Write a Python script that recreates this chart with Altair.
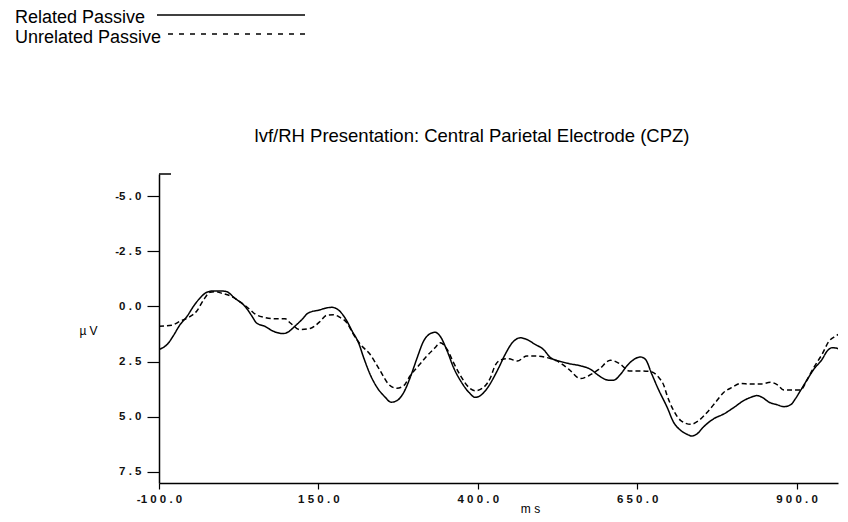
import altair as alt
import pandas as pd

series_names = ["Related Passive", "Unrelated Passive"]

related_ms = [-100, -85, -78, -67, -56, -46, -36, -25, -15, -2, 6, 19, 35, 46, 53, 66, 79, 95, 103, 113,
              124, 134, 153, 161, 171, 181, 192, 203, 213, 221, 231, 242, 255, 264, 273, 284, 294, 305, 315, 325,
              333, 341, 352, 362, 373, 386, 396, 404, 414, 425, 433, 443, 454, 467, 477, 490, 503, 514, 527, 543,
              561, 577, 590, 605, 613, 624, 634, 645, 655, 663, 673, 684, 697, 707, 718, 728, 736, 744, 754, 770,
              786, 802, 817, 828, 838, 846, 857, 870, 880, 891, 898, 906, 917, 927, 940, 948, 956, 964, 972, 980]
related_uv = [1.95, 1.65, 1.35, 0.83, 0.45, 0.0, -0.37, -0.64, -0.7, -0.7, -0.67, -0.37, 0.0, 0.45, 0.75, 0.9, 1.12, 1.23, 1.15, 0.9,
              0.6, 0.3, 0.15, 0.08, 0.04, 0.15, 0.53, 1.12, 1.65, 2.32, 3.07, 3.67, 4.12, 4.34, 4.27, 3.89, 3.22, 2.32, 1.57, 1.24,
              1.17, 1.35, 2.02, 2.77, 3.37, 3.89, 4.12, 4.04, 3.74, 3.22, 2.77, 2.17, 1.65, 1.42, 1.5, 1.72, 1.95, 2.32, 2.47, 2.59,
              2.69, 2.85, 3.14, 3.34, 3.34, 3.07, 2.69, 2.4, 2.29, 2.4, 3.07, 3.8, 4.57, 5.24, 5.61, 5.79, 5.87, 5.77, 5.46, 5.09,
              4.87, 4.57, 4.27, 4.12, 4.04, 4.12, 4.34, 4.46, 4.54, 4.45, 4.19, 3.82, 3.3, 2.85, 2.4, 2.02, 1.87, 1.9, 2.17, 2.25]

unrelated_ms = [-100, -80, -67, -54, -41, -30, -20, -12, -2, 14, 30, 43, 51, 66, 82, 98, 106, 121, 137, 146,
                153, 163, 174, 184, 195, 205, 216, 231, 247, 260, 273, 284, 294, 307, 320, 333, 341, 352, 362, 373,
                386, 396, 409, 420, 427, 438, 448, 462, 477, 490, 509, 524, 543, 561, 574, 590, 608, 624, 637, 652,
                671, 684, 692, 697, 707, 718, 734, 747, 760, 773, 786, 799, 812, 828, 843, 859, 870, 880, 893, 906,
                917, 927, 940, 951, 961, 972, 980]
unrelated_uv = [0.9, 0.85, 0.67, 0.5, 0.22, -0.3, -0.64, -0.67, -0.6, -0.45, -0.15, 0.15, 0.35, 0.5, 0.56, 0.56, 0.75, 1.05, 1.0, 0.85,
                0.67, 0.4, 0.38, 0.5, 0.75, 1.27, 1.72, 2.17, 2.92, 3.52, 3.71, 3.59, 3.14, 2.69, 2.25, 1.87, 1.65, 1.95, 2.55, 3.14,
                3.67, 3.82, 3.67, 3.22, 2.69, 2.4, 2.37, 2.47, 2.25, 2.25, 2.32, 2.47, 2.85, 3.27, 3.14, 2.85, 2.44, 2.62, 2.92, 2.92,
                2.95, 3.22, 3.59, 4.04, 4.71, 5.16, 5.34, 5.16, 4.79, 4.34, 3.89, 3.67, 3.49, 3.52, 3.52, 3.44, 3.55, 3.79, 3.79, 3.79,
                3.3, 2.77, 2.17, 1.57, 1.35, 1.15, 1.0]

x_ticks = [-100, 150, 400, 650, 900]
x_tick_labels = ["-100.0", "150.0", "400.0", "650.0", "900.0"]
y_ticks = [-5.0, -2.5, 0.0, 2.5, 5.0, 7.5]
y_tick_labels = ["-5.0", "-2.5", "0.0", "2.5", "5.0", "7.5"]

title_text = "lvf/RH Presentation: Central Parietal Electrode (CPZ)"
x_title = "m s"
y_title = "µ V"

FONT = "Liberation Sans"


def spaced(lab):
    # the scan prints tick labels letter-spaced, with the minus sign set close to the first digit
    if lab.startswith("-"):
        return "-" + " ".join(list(lab[1:]))
    return " ".join(list(lab))


def label_expr(values, labels):
    expr = "''"
    for v, lab in reversed(list(zip(values, labels))):
        expr = f"datum.value == {v} ? '{spaced(lab)}' : ({expr})"
    return expr


df = pd.concat([
    pd.DataFrame({"ms": related_ms, "uv": related_uv, "series": series_names[0]}),
    pd.DataFrame({"ms": unrelated_ms, "uv": unrelated_uv, "series": series_names[1]}),
])

x_axis = alt.Axis(
    values=x_ticks, labelExpr=label_expr(x_ticks, x_tick_labels), title=x_title,
    titleX=371, titleY=25, titleAlign="center", titleBaseline="middle", titleAngle=0,
    titleFont=FONT, titleFontSize=12, titleFontWeight="normal", titleColor="black",
    tickSize=6, tickWidth=1.2, tickColor="black", labelPadding=4,
    labelFont=FONT, labelFontSize=11.5, labelFontWeight="bold", labelColor="#111111", labelFlush=False,
    domainColor="black", domainWidth=1.5, grid=False,
)
y_axis = alt.Axis(
    values=y_ticks, labelExpr=label_expr(y_ticks, y_tick_labels), title=y_title,
    titleX=-71, titleY=156, titleAlign="center", titleBaseline="middle", titleAngle=0,
    titleFont=FONT, titleFontSize=12, titleFontWeight="normal", titleColor="black",
    tickSize=12, tickWidth=1.2, tickColor="black", labelPadding=6,
    labelFont=FONT, labelFontSize=11.5, labelFontWeight="bold", labelColor="#111111",
    domainColor="black", domainWidth=1.5, grid=False,
)

lines = alt.Chart(df).mark_line(color="black", strokeWidth=1.5, interpolate="monotone", clip=True).encode(
    x=alt.X("ms:Q", scale=alt.Scale(domain=[-100, 965], nice=False, zero=False), axis=x_axis),
    y=alt.Y("uv:Q", scale=alt.Scale(domain=[-6, 8], reverse=True, nice=False, zero=False), axis=y_axis),
    strokeDash=alt.StrokeDash("series:N", scale=alt.Scale(domain=series_names, range=[[1, 0], [5, 3]]), legend=None),
)

leg_df1 = pd.DataFrame({"label": [series_names[0]]})
leg_df2 = pd.DataFrame({"label": [series_names[1]]})
title_df = pd.DataFrame({"label": [title_text]})

leg_text1 = alt.Chart(leg_df1).mark_text(align="left", baseline="alphabetic", font=FONT, fontSize=18, color="black").encode(
    x=alt.value(-144), y=alt.value(-151), text="label:N")
leg_text2 = alt.Chart(leg_df2).mark_text(align="left", baseline="alphabetic", font=FONT, fontSize=18, color="black").encode(
    x=alt.value(-144), y=alt.value(-131), text="label:N")
leg_rule1 = alt.Chart(leg_df1).mark_rule(color="black", strokeWidth=1.6).encode(
    x=alt.value(-2), x2=alt.value(146), y=alt.value(-159))
leg_rule2 = alt.Chart(leg_df2).mark_rule(color="black", strokeWidth=1.4, strokeDash=[5, 6]).encode(
    x=alt.value(9), x2=alt.value(151), y=alt.value(-140))
top_stub = alt.Chart(leg_df1).mark_rule(color="black", strokeWidth=1.5).encode(
    x=alt.value(0), x2=alt.value(12), y=alt.value(0))
title_mark = alt.Chart(title_df).mark_text(align="center", baseline="alphabetic", font=FONT, fontSize=18.5, color="black").encode(
    x=alt.value(313), y=alt.value(-32), text="label:N")

chart = alt.layer(lines, leg_rule1, leg_rule2, leg_text1, leg_text2, top_stub, title_mark).properties(
    width=679, height=309, autosize="none", background="white",
    padding={"left": 151, "top": 166, "right": 2, "bottom": 31},
).configure_view(stroke=None, strokeWidth=0)

chart.save("out.html", embed_options={"renderer": "svg", "actions": False})
